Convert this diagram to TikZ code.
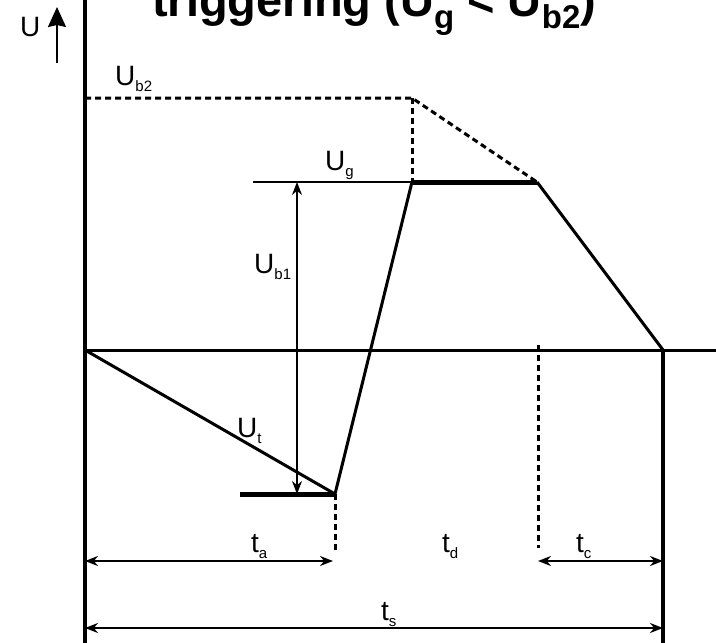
\documentclass[tikz,border=0pt]{standalone}
\usepackage{fontspec}
\setmainfont{Liberation Sans}
\usetikzlibrary{arrows.meta}

\newcommand{\lsub}[1]{\raisebox{-6pt}{\fontsize{15}{15}\selectfont #1}}
\newcommand{\tsub}[1]{\raisebox{-12pt}{\fontsize{33}{33}\selectfont\bfseries #1}}

\tikzset{
    axisline/.style={line width=3.5pt},
    curve/.style={line width=3pt},
    level/.style={line width=5pt},
    thin/.style={line width=1.5pt},
    dash line/.style={line width=3pt, dash pattern=on 6pt off 4pt},
    dim/.style={line width=2.2pt, {Stealth[length=13pt,width=10pt]}-{Stealth[length=13pt,width=10pt]}},
    lbl/.style={font=\fontsize{28}{30}\selectfont, inner sep=0pt, anchor=base west}
}

\begin{document}
\begin{tikzpicture}[x=1pt,y=-1pt]
    \useasboundingbox (0,0) rectangle (716,643);
    \clip (0,0) rectangle (716,643);
    % time axis and end points
    \coordinate (O) at (85,350);
    \coordinate (Top) at (85,0);
    \coordinate (Bot) at (85,643);
    \coordinate (Xend) at (716,350);
    \coordinate (S) at (663,350);
    \coordinate (Sb) at (663,643);
    % corners of the voltage curve
    \coordinate (T) at (335,494);
    \coordinate (Tl) at (240,494);
    \coordinate (G1) at (412,182);
    \coordinate (G2) at (537,182);
    \coordinate (Gl) at (253,182);
    \coordinate (B1) at (85,98);
    \coordinate (B2) at (412,98);
    \coordinate (Ta) at (335,552);
    \coordinate (Tc) at (538,345);
    \coordinate (Tcb) at (538,548);
    % dimension ends
    \coordinate (a1) at (85,561);
    \coordinate (a2) at (333,561);
    \coordinate (c1) at (538,561);
    \coordinate (c2) at (663,561);
    \coordinate (s1) at (85,628);
    \coordinate (s2) at (663,628);
    \coordinate (k1) at (297,182);
    \coordinate (k2) at (297,494);
    \coordinate (u1) at (57,63);
    \coordinate (u2) at (57,7);

    % axes
    \draw[axisline] (Top) -- (Bot);
    \draw[curve] (O) -- (Xend);
    \draw[axisline] (S) -- (Sb);
    \draw[line width=2pt, -{Stealth[length=20pt,width=18pt,inset=2pt]}] (u1) -- (u2);

    % levels
    \draw[dash line] (B1) -- (B2) -- (G2);
    \draw[dash line] (B2) -- (G1);
    \draw[thin] (Gl) -- (G1);
    \draw[dash line] (T) -- (Ta);
    \draw[dash line] (Tc) -- (Tcb);

    % voltage curve
    \draw[curve, line join=round] (O) -- (T) -- (G1);
    \draw[level] (Tl) -- (T);
    \draw[level] (G1) -- (G2);
    \draw[curve] (G2) -- (S);

    % dimensions
    \draw[thin, {Stealth[length=13pt,width=10pt]}-{Stealth[length=13pt,width=10pt]}] (k1) -- (k2);
    \draw[dim] (a1) -- (a2);
    \draw[dim] (c1) -- (c2);
    \draw[dim] (s1) -- (s2);

    % labels
    \node[font=\fontsize{47}{50}\selectfont\bfseries, inner sep=0pt, anchor=base west] (title) at (152,16)
        {triggering (U\tsub{g} < U\tsub{b2})};
    \node[lbl] (lU) at (20,36) {U};
    \node[lbl] (lb2) at (115,85) {U\lsub{b2}};
    \node[lbl] (lg) at (325,170) {U\lsub{g}};
    \node[lbl] (lb1) at (254,273) {U\lsub{b1}};
    \node[lbl] (lt) at (237,437) {U\lsub{t}};
    \node[lbl] (la) at (251,552) {t\lsub{a}};
    \node[lbl] (ld) at (442,552) {t\lsub{d}};
    \node[lbl] (lc) at (576,552) {t\lsub{c}};
    \node[lbl] (ls) at (381,620) {t\lsub{s}};
\end{tikzpicture}
\end{document}
